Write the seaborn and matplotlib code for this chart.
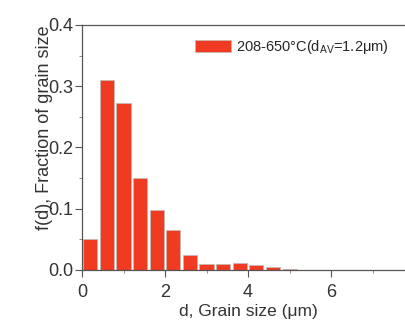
import numpy as np
import pandas as pd
import matplotlib
matplotlib.use("Agg")
import matplotlib.pyplot as plt
import seaborn as sns
from matplotlib.ticker import MultipleLocator

# Grain size distribution (bin centres in µm, fraction per bin)
bin_centers = [0.2, 0.6, 1.0, 1.4, 1.8, 2.2, 2.6, 3.0, 3.4, 3.8, 4.2, 4.6, 5.0]
fractions = [0.050, 0.310, 0.272, 0.150, 0.097, 0.065, 0.025, 0.010, 0.010, 0.012, 0.008, 0.005, 0.002]
series_label = "208-650°C(d$_{AV}$=1.2μm)"
x_ticks = [0, 2, 4, 6]
y_ticks = [0.0, 0.1, 0.2, 0.3, 0.4]

df = pd.DataFrame({"d": bin_centers, "f": fractions})

sns.set_theme(style="ticks")
plt.rcParams["font.family"] = ["Liberation Sans", "DejaVu Sans"]
plt.rcParams["mathtext.default"] = "regular"

fig = plt.figure(figsize=(4.06, 3.24), dpi=100)
ax = fig.add_axes([0.202, 0.167, 0.818, 0.756])

sns.barplot(data=df, x="d", y="f", native_scale=True, width=0.85,
            color="#F03A22", saturation=1, edgecolor="#C8B8B0", linewidth=0.6,
            label=series_label, ax=ax)

ax.set_xlim(0, 8)
ax.set_ylim(0, 0.4)
ax.set_xticks(x_ticks)
ax.set_xticklabels([str(v) for v in x_ticks])
ax.set_yticks(y_ticks)
ax.set_yticklabels([f"{v:.1f}" for v in y_ticks])
ax.xaxis.set_minor_locator(MultipleLocator(1))
ax.yaxis.set_minor_locator(MultipleLocator(0.05))
ax.tick_params(axis="both", which="major", labelsize=13, length=5, width=0.8,
               color="#555555", labelcolor="#333333")
ax.tick_params(axis="x", which="major", pad=5)
ax.tick_params(axis="y", which="major", pad=1)
ax.tick_params(axis="both", which="minor", length=2.5, width=0.6, color="#777777")

for side in ["left", "bottom", "top"]:
    ax.spines[side].set_color("#555555")
    ax.spines[side].set_linewidth(0.9)
ax.spines["right"].set_visible(False)

ax.set_xlabel("d, Grain size (μm)", fontsize=12.5, color="#333333", labelpad=2)
ax.set_ylabel("f(d), Fraction of grain size", fontsize=13, color="#333333")
ax.yaxis.set_label_coords(-0.088, 0.58)

ax.legend(loc="upper left", bbox_to_anchor=(0.30, 1.0), frameon=False,
          fontsize=10.5, handlelength=2.5, handleheight=0.9, handletextpad=0.3)

fig.savefig("out.png", dpi=100)
